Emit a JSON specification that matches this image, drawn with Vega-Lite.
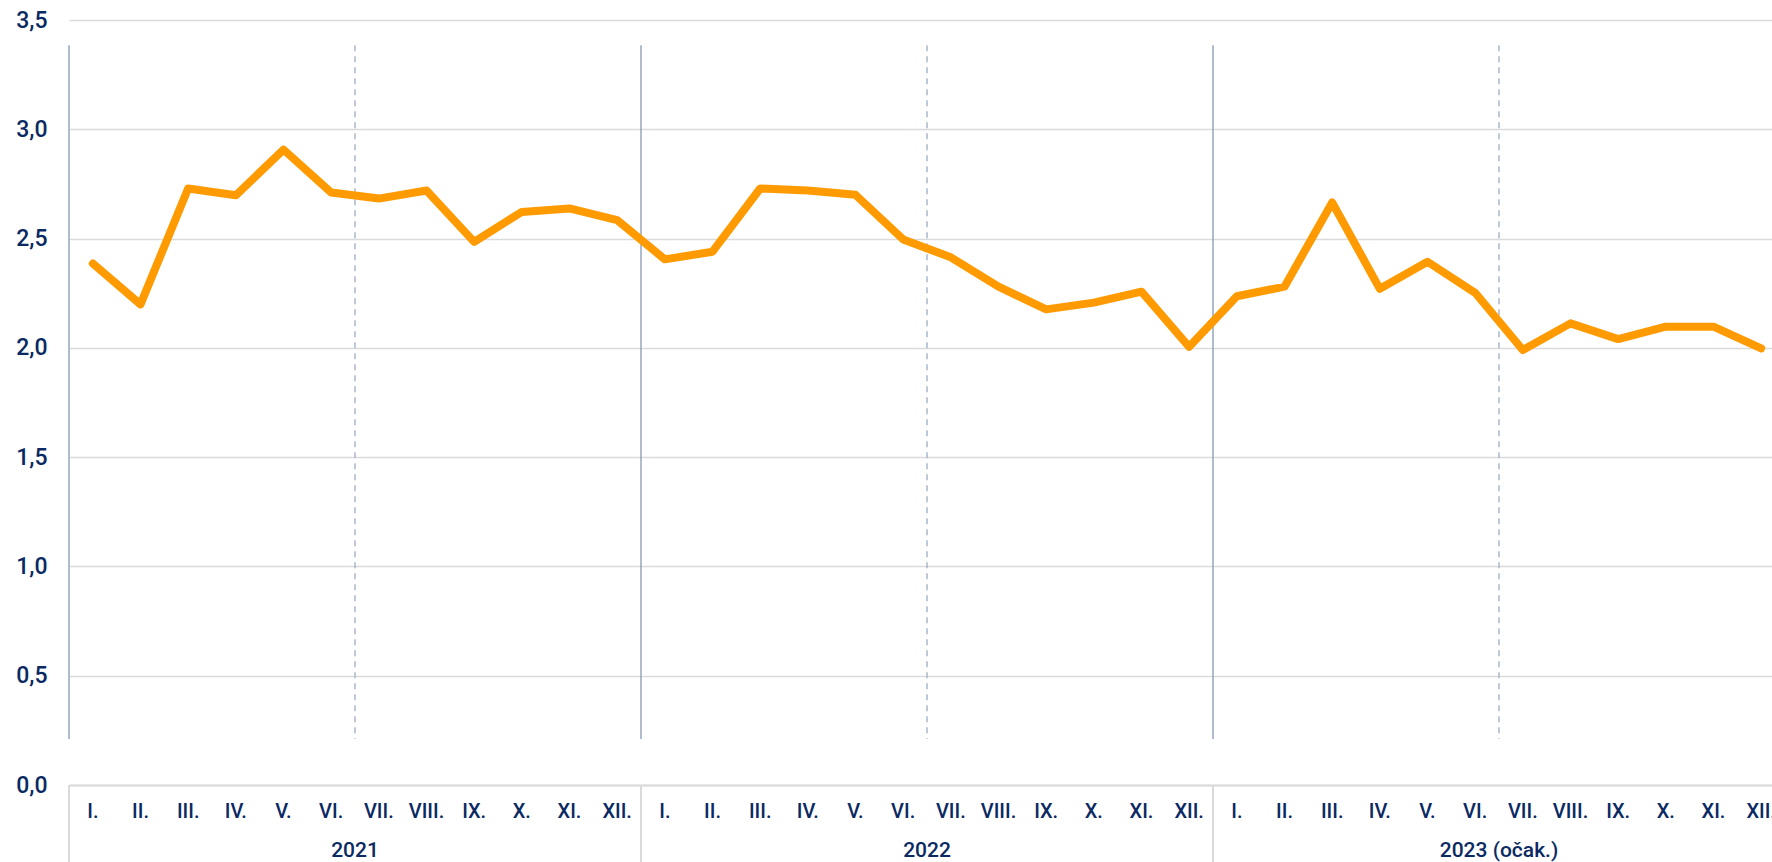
{
  "$schema": "https://vega.github.io/schema/vega-lite/v6.json",
  "autosize": "none",
  "padding": {"left": 69, "top": 20, "right": 0, "bottom": 77},
  "width": 1716,
  "height": 765,
  "background": "white",
  "config": {"view": {"stroke": null}, "font": "Roboto"},
  "datasets": {
    "series": [
      {"key": "2021-01", "m": "I.", "v": 2.386},
      {"key": "2021-02", "m": "II.", "v": 2.199},
      {"key": "2021-03", "m": "III.", "v": 2.729},
      {"key": "2021-04", "m": "IV.", "v": 2.698},
      {"key": "2021-05", "m": "V.", "v": 2.907},
      {"key": "2021-06", "m": "VI.", "v": 2.711},
      {"key": "2021-07", "m": "VII.", "v": 2.683},
      {"key": "2021-08", "m": "VIII.", "v": 2.72},
      {"key": "2021-09", "m": "IX.", "v": 2.485},
      {"key": "2021-10", "m": "X.", "v": 2.622},
      {"key": "2021-11", "m": "XI.", "v": 2.638},
      {"key": "2021-12", "m": "XII.", "v": 2.584},
      {"key": "2022-01", "m": "I.", "v": 2.405},
      {"key": "2022-02", "m": "II.", "v": 2.44},
      {"key": "2022-03", "m": "III.", "v": 2.729},
      {"key": "2022-04", "m": "IV.", "v": 2.72},
      {"key": "2022-05", "m": "V.", "v": 2.70},
      {"key": "2022-06", "m": "VI.", "v": 2.496},
      {"key": "2022-07", "m": "VII.", "v": 2.414},
      {"key": "2022-08", "m": "VIII.", "v": 2.28},
      {"key": "2022-09", "m": "IX.", "v": 2.176},
      {"key": "2022-10", "m": "X.", "v": 2.207},
      {"key": "2022-11", "m": "XI.", "v": 2.257},
      {"key": "2022-12", "m": "XII.", "v": 2.005},
      {"key": "2023-01", "m": "I.", "v": 2.236},
      {"key": "2023-02", "m": "II.", "v": 2.28},
      {"key": "2023-03", "m": "III.", "v": 2.665},
      {"key": "2023-04", "m": "IV.", "v": 2.27},
      {"key": "2023-05", "m": "V.", "v": 2.394},
      {"key": "2023-06", "m": "VI.", "v": 2.252},
      {"key": "2023-07", "m": "VII.", "v": 1.99},
      {"key": "2023-08", "m": "VIII.", "v": 2.112},
      {"key": "2023-09", "m": "IX.", "v": 2.04},
      {"key": "2023-10", "m": "X.", "v": 2.097},
      {"key": "2023-11", "m": "XI.", "v": 2.097},
      {"key": "2023-12", "m": "XII.", "v": 1.998}
    ],
    "years": [
      {"start": "2021-01", "mid": "2021-07", "label": "2021"},
      {"start": "2022-01", "mid": "2022-07", "label": "2022"},
      {"start": "2023-01", "mid": "2023-07", "label": "2023 (očak.)"}
    ]
  },
  "layer": [
    {
      "data": {"name": "series"},
      "mark": {"type": "rule", "strokeWidth": 0},
      "encoding": {
        "x": {"field": "key", "type": "ordinal", "scale": {"type": "band", "paddingInner": 0, "paddingOuter": 0}, "axis": {"labels": false, "ticks": false, "title": null, "domain": true, "domainColor": "#d9d9d9", "domainWidth": 2, "grid": false}},
        "y": {"field": "v", "type": "quantitative", "scale": {"domain": [0, 3.5]},
          "axis": {"values": [0, 0.5, 1, 1.5, 2, 2.5, 3, 3.5], "title": null, "domain": false, "ticks": false, "grid": true, "gridColor": "#dadada", "gridWidth": 1.5, "labelPadding": 22, "labelFontSize": 23, "labelFontWeight": 500, "labelColor": "#0b2a63", "labelFont": "Roboto", "labelExpr": "replace(format(datum.value, '.1f'), '.', ',')"}}
      }
    },
    {
      "data": {"name": "years"},
      "mark": {"type": "rule", "color": "#8797b3", "strokeWidth": 1.3},
      "encoding": {
        "x": {"field": "start", "type": "ordinal", "bandPosition": 0},
        "y": {"datum": 3.385},
        "y2": {"datum": 0.21}
      }
    },
    {
      "data": {"name": "years"},
      "mark": {"type": "rule", "color": "#a9b6c9", "strokeWidth": 1.5, "strokeDash": [6, 5]},
      "encoding": {
        "x": {"field": "mid", "type": "ordinal", "bandPosition": 0},
        "y": {"datum": 3.385},
        "y2": {"datum": 0.21}
      }
    },
    {
      "data": {"name": "years"},
      "mark": {"type": "rule", "color": "#dadada", "strokeWidth": 2, "y2Offset": 90},
      "encoding": {
        "x": {"field": "start", "type": "ordinal", "bandPosition": 0},
        "y": {"datum": 0},
        "y2": {"datum": 0}
      }
    },
    {
      "data": {"name": "series"},
      "mark": {"type": "line", "color": "#ff9a00", "strokeWidth": 8, "strokeCap": "round", "strokeJoin": "round"},
      "encoding": {
        "x": {"field": "key", "type": "ordinal", "bandPosition": 0.5},
        "y": {"field": "v", "type": "quantitative"}
      }
    },
    {
      "data": {"name": "series"},
      "mark": {"type": "text", "color": "#0b2a63", "fontSize": 20, "font": "Roboto", "fontWeight": 500, "dy": 27, "align": "center", "baseline": "middle"},
      "encoding": {
        "x": {"field": "key", "type": "ordinal", "bandPosition": 0.5},
        "y": {"datum": 0},
        "text": {"field": "m"}
      }
    },
    {
      "data": {"name": "years"},
      "mark": {"type": "text", "color": "#0b2a63", "fontSize": 21, "font": "Roboto", "fontWeight": 500, "dy": 66, "align": "center", "baseline": "middle"},
      "encoding": {
        "x": {"field": "mid", "type": "ordinal", "bandPosition": 0},
        "y": {"datum": 0},
        "text": {"field": "label"}
      }
    }
  ]
}
